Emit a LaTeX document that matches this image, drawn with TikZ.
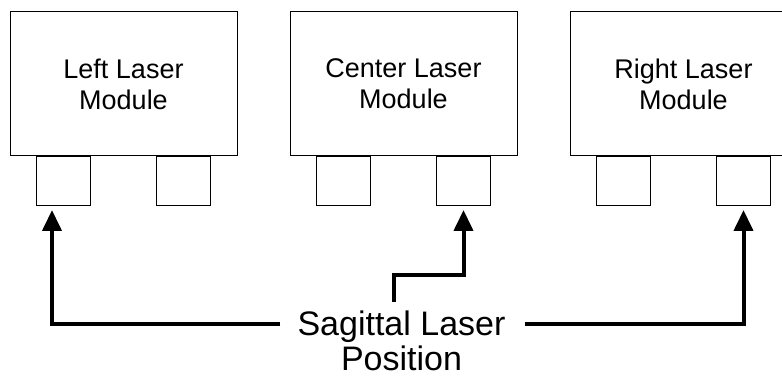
\documentclass[tikz,border=0pt]{standalone}
\usepackage{fontspec}
\setmainfont{Liberation Sans}
\usepackage{tikz}
\usetikzlibrary{arrows.meta, positioning, calc}

\begin{document}
\begin{tikzpicture}[
    node distance=52pt,
    module/.style={rectangle, minimum width=227pt, minimum height=144pt, inner sep=0pt, align=center, draw=black, line width=1pt, fill=white, font=\fontsize{27}{31}\selectfont},
    port/.style={rectangle, minimum width=54pt, minimum height=49pt, inner sep=0pt, draw=black, line width=1pt, fill=white},
    caption/.style={align=center, inner sep=0pt, font=\fontsize{34}{35}\selectfont},
    line/.style={draw=black, line width=4pt, -{Triangle[length=21pt, width=19pt]}, shorten >=3.5pt}
]
    \useasboundingbox (0,0) rectangle (782pt,380pt);

    \node[module] (left_mod) at (123.5pt,296pt) {Left Laser\\Module};
    \node[module, right=of left_mod] (center_mod) {Center Laser\\Module};
    \node[module, right=of center_mod] (right_mod) {Right Laser\\Module};

    \node[port, below=0pt of left_mod, xshift=-60pt] (left_port_a) {};
    \node[port, below=0pt of left_mod, xshift=60pt] (left_port_b) {};
    \node[port, below=0pt of center_mod, xshift=-60pt] (center_port_a) {};
    \node[port, below=0pt of center_mod, xshift=60pt] (center_port_b) {};
    \node[port, below=0pt of right_mod, xshift=-60pt] (right_port_a) {};
    \node[port, below=0pt of right_mod, xshift=60pt] (right_port_b) {};

    \node[caption] (sagittal) at (401.5pt,39pt) {Sagittal Laser\\Position};
    \coordinate[left=17pt of sagittal.west, yshift=17pt] (left_feed);
    \coordinate[right=19pt of sagittal.east, yshift=17pt] (right_feed);

    % Connectors
    \draw[line] (left_feed) -| ([xshift=-11.5pt]left_port_a.south);
    \draw[line] (right_feed) -| (right_port_b.south);
    \draw[line] ([xshift=-8pt, yshift=9pt]sagittal.north) -- ++(0,27pt) -| (center_port_b.south);
\end{tikzpicture}
\end{document}
